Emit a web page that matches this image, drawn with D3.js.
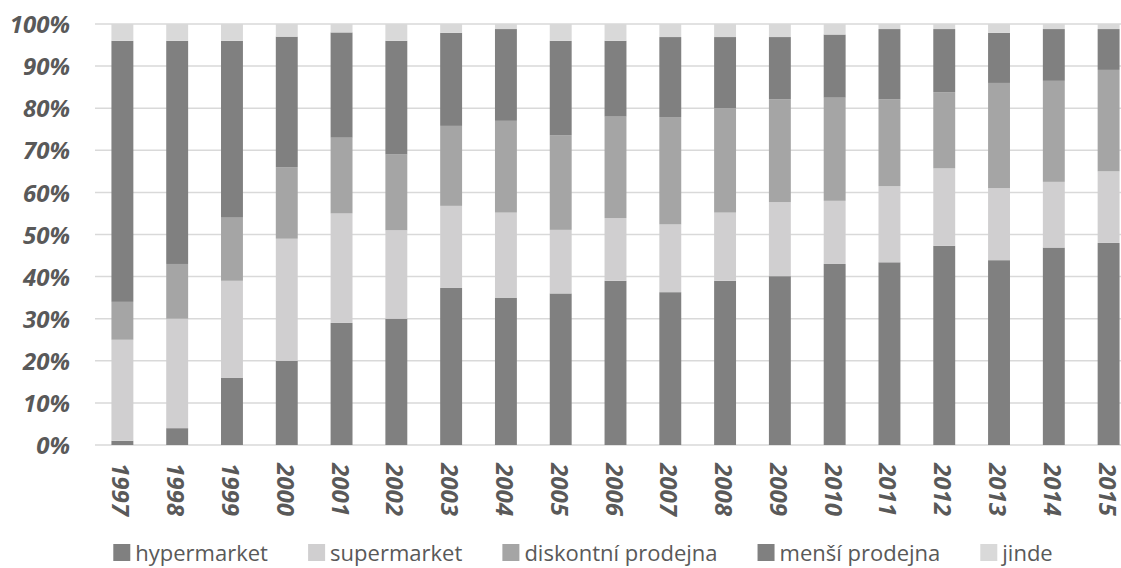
<!DOCTYPE html>
<html><head><meta charset="utf-8">
<script src="https://cdn.jsdelivr.net/npm/d3@7"></script>
<style>
html,body{margin:0;padding:0;background:#fff;}
svg{display:block;}
</style></head>
<body>
<svg id="chart" width="1121" height="568"></svg>
<script>
const years = ["1997","1998","1999","2000","2001","2002","2003","2004","2005","2006","2007","2008","2009","2010","2011","2012","2013","2014","2015"];
const seriesNames = ["hypermarket","supermarket","diskontní prodejna","menší prodejna","jinde"];
const hypermarket = [1,4,16,20,29,30,37.3,35,36,39,36.3,39,40.1,43,43.4,47.3,43.9,46.9,48];
const supermarket = [24,26,23,29,26,21,19.5,20.2,15.1,14.9,16.1,16.2,17.6,15,18.1,18.4,17.1,15.6,17];
const diskontni   = [9,13,15,17,18,18,19,21.8,22.5,24.1,25.5,24.8,24.4,24.5,20.6,18.1,25,24,24.1];
const mensi       = [62,53,42,31,25,27,22.1,21.8,22.4,18,19,16.9,14.8,15,16.7,15,11.9,12.3,9.7];
const jinde       = [4,4,4,3,2,4,2.1,1.2,4,4,3.1,3.1,3.1,2.5,1.2,1.2,2.1,1.2,1.2];
const yTicks = [0,0.1,0.2,0.3,0.4,0.5,0.6,0.7,0.8,0.9,1.0];
const colors = ["#808080","#d0cfd0","#a5a5a5","#808080","#d9d9d9"];

(function(){
const seriesValues = [hypermarket, supermarket, diskontni, mensi, jinde];
const table = years.map((yr,i)=>{
  const row = {year:yr};
  seriesNames.forEach((s,k)=>row[s]=seriesValues[k][i]/100);
  return row;
});
const stacked = d3.stack().keys(seriesNames)(table);

const svg = d3.select("#chart");
const mLeft = 95, mRight = 1136, mTop = 24, mBottom = 445;
const x = d3.scaleBand().domain(years).range([mLeft,mRight]).paddingInner(0.6).paddingOuter(0.3);
const y = d3.scaleLinear().domain([0,1]).range([mBottom, mTop]);

const fontFam = "'Open Sans', 'DejaVu Sans', sans-serif";

svg.append("g").selectAll("line").data(yTicks).join("line")
  .attr("x1", mLeft).attr("x2", 1121)
  .attr("y1", d=>y(d)).attr("y2", d=>y(d))
  .attr("stroke", "#d9d9d9").attr("stroke-width", 1.5);

const yAxis = d3.axisLeft(y).tickValues(yTicks).tickFormat(d3.format(".0%")).tickSize(0).tickPadding(0);
const yg = svg.append("g").attr("transform", `translate(70,0)`).call(yAxis);
yg.select(".domain").remove();
yg.selectAll("text").attr("font-family", fontFam).attr("font-size", 24)
  .attr("font-weight", "bold").attr("font-style", "italic").attr("fill", "#595959")
  .attr("dy", "0.36em");

svg.append("g").selectAll("g").data(stacked).join("g")
  .attr("fill", (d,i)=>colors[i])
  .selectAll("rect").data(d=>d).join("rect")
  .attr("x", d=>x(d.data.year))
  .attr("width", x.bandwidth())
  .attr("y", d=>y(d[1]))
  .attr("height", d=>y(d[0])-y(d[1]));

const xAxis = d3.axisBottom(x).tickSize(0).tickPadding(0);
const xg = svg.append("g").attr("transform", `translate(0,${mBottom})`).call(xAxis);
xg.select(".domain").remove();
xg.selectAll("text")
  .attr("font-family", fontFam).attr("font-size", 24)
  .attr("font-weight", "bold").attr("font-style", "italic").attr("fill", "#595959")
  .attr("text-anchor", "start")
  .attr("transform", "translate(-10,18) rotate(90)")
  .attr("x", 0).attr("y", 0).attr("dy", 0);

const legend = svg.append("g").attr("transform", "translate(0,561)");
const items = legend.selectAll("g").data(seriesNames).join("g");
items.append("rect").attr("width", 17).attr("height", 17).attr("y", -17)
  .attr("fill", (d,i)=>colors[i]);
items.append("text").attr("x", 22)
  .attr("font-family", fontFam).attr("font-size", 22).attr("fill", "#595959")
  .text(d=>d);
const widths = [];
items.each(function(){ widths.push(this.getBBox().width); });
const gap = 40;
const total = d3.sum(widths) + gap*(widths.length-1);
let cx = 583 - total/2;
items.attr("transform", (d,i)=>{ const t = `translate(${cx},0)`; cx += widths[i] + gap; return t; });
})();
</script>
</body></html>
